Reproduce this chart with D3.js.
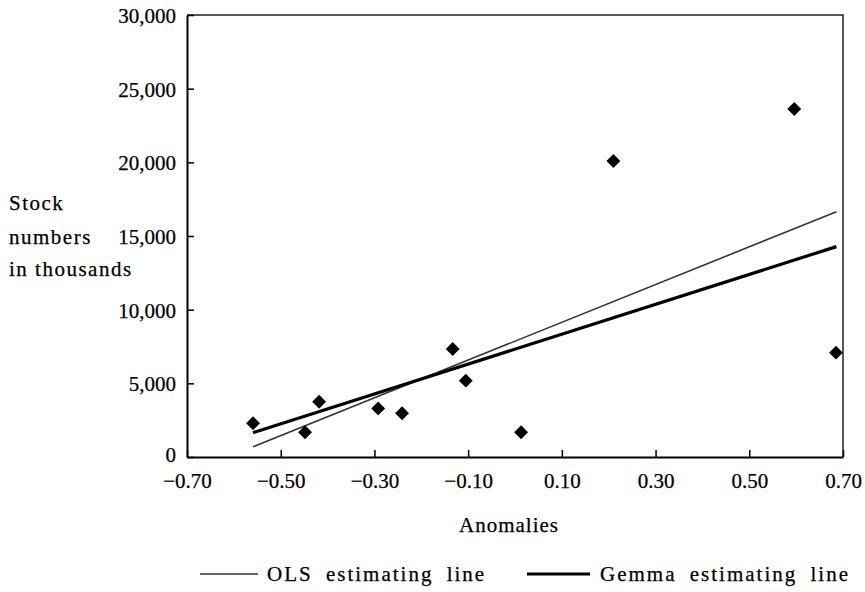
<!DOCTYPE html>
<html>
<head>
<meta charset="utf-8">
<script src="https://cdn.jsdelivr.net/npm/d3@7"></script>
<style>
  body { margin: 0; background: #fff; }
  svg { display: block; }
  text { stroke: #000; stroke-width: 0.25px; }
</style>
</head>
<body>
<div id="chart"></div>
<script>
var width = 865;
var height = 592;

// scatter points
var anomalies = [-0.559, -0.448, -0.418, -0.292, -0.241, -0.133, -0.105, 0.013, 0.210, 0.596, 0.685];
var stock = [2290, 1680, 3750, 3300, 2970, 7330, 5180, 1680, 20090, 23620, 7080];

// estimating lines, end points
var lineX = [-0.559, 0.686];
var olsY = [700, 16650];
var gemmaY = [1650, 14280];

var xTicks = [-0.70, -0.50, -0.30, -0.10, 0.10, 0.30, 0.50, 0.70];
var yTicks = [0, 5000, 10000, 15000, 20000, 25000, 30000];
var yLabel = ["Stock", "numbers", "in thousands"];
var legendNames = ["OLS estimating line", "Gemma estimating line"];

var font = "'Liberation Serif', 'Times New Roman', serif";

var svg = d3.select("#chart")
    .append("svg")
    .attr("width", width)
    .attr("height", height)
    .attr("font-family", font)
    .attr("font-size", 21);

var x = d3.scaleLinear().domain([-0.7, 0.7]).range([187, 843]);
var y = d3.scaleLinear().domain([0, 30000]).range([457, 15]);

// frame top and right
svg.append("path")
    .attr("d", "M" + x(-0.7) + "," + y(30000) + "H" + x(0.7) + "V" + y(0))
    .attr("fill", "none")
    .attr("stroke", "#222")
    .attr("stroke-width", 1.5);

var xAxis = svg.append("g")
    .attr("transform", "translate(0," + y(0) + ")")
    .call(d3.axisBottom(x).tickValues(xTicks).tickFormat(d3.format(".2f"))
      .tickSizeInner(-7).tickSizeOuter(0).tickPadding(16));

var yAxis = svg.append("g")
    .attr("transform", "translate(" + x(-0.7) + ",0)")
    .call(d3.axisLeft(y).tickValues(yTicks).tickFormat(d3.format(","))
      .tickSizeInner(-7).tickSizeOuter(0).tickPadding(11));

[xAxis, yAxis].forEach(function(g) {
  g.attr("font-family", font).attr("font-size", 21);
  g.select(".domain").attr("stroke", "#000").attr("stroke-width", 2);
  g.selectAll(".tick line").attr("stroke", "#000").attr("stroke-width", 1.5);
  g.selectAll(".tick text").attr("fill", "#000");
});
yAxis.selectAll(".tick text").attr("dy", function(d) { return d === 0 ? "0.22em" : "0.36em"; });

// regression lines
var line = d3.line()
    .x(function(d) { return x(d[0]); })
    .y(function(d) { return y(d[1]); });

svg.append("path")
    .datum(d3.zip(lineX, olsY))
    .attr("d", line)
    .attr("fill", "none")
    .attr("stroke", "#333")
    .attr("stroke-width", 1.6);

svg.append("path")
    .datum(d3.zip(lineX, gemmaY))
    .attr("d", line)
    .attr("fill", "none")
    .attr("stroke", "#000")
    .attr("stroke-width", 3.2);

// diamonds
var diamond = d3.symbol().type(d3.symbolSquare).size(96);
svg.selectAll(".pt")
    .data(d3.zip(anomalies, stock))
    .enter().append("path")
      .attr("class", "pt")
      .attr("d", diamond)
      .attr("fill", "#000")
      .attr("transform", function(d) { return "translate(" + x(d[0]) + "," + y(d[1]) + ") rotate(45)"; });

// axis titles
svg.append("g").selectAll("text")
    .data(yLabel)
    .enter().append("text")
      .attr("x", 9)
      .attr("y", function(d, i) { return [210, 244, 276][i]; })
      .attr("letter-spacing", 1.5)
      .text(function(d) { return d; });

svg.append("text")
    .attr("x", 509)
    .attr("y", 532)
    .attr("text-anchor", "middle")
    .attr("letter-spacing", 1)
    .text("Anomalies");

// legend
var legend = svg.append("g");
var legX = [[200, 258, 267], [527, 590, 600]];
legendNames.forEach(function(name, i) {
  legend.append("line")
      .attr("x1", legX[i][0]).attr("x2", legX[i][1])
      .attr("y1", 574).attr("y2", 574)
      .attr("stroke", i ? "#000" : "#333")
      .attr("stroke-width", i ? 3.2 : 1.6);
  legend.append("text")
      .attr("x", legX[i][2])
      .attr("y", 581)
      .attr("letter-spacing", 2)
      .attr("word-spacing", 6)
      .text(name);
});
</script>
</body>
</html>
